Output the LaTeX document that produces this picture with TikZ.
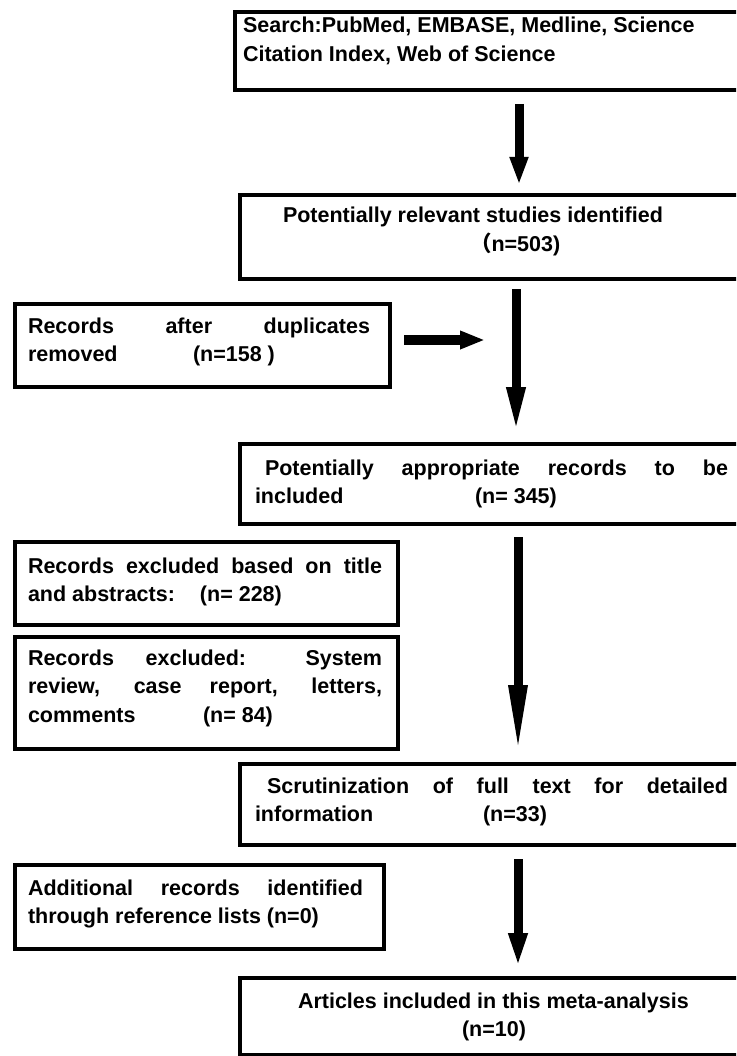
\documentclass[tikz,border=0pt]{standalone}
\usepackage{fontspec}
\setmainfont{Liberation Sans}
\newfontfamily\cjk{Noto Sans CJK SC}
\usetikzlibrary{arrows.meta}
\tikzset{
  box/.style={draw=black, line width=4pt, fill=none, inner sep=0pt, anchor=north west},
  txt/.style={anchor=base west, inner sep=0pt, outer sep=0pt},
  bigarrow/.style={line width=9pt, -{Triangle[length=#1, width=17pt]}},
  bigarrow/.default=30pt
}
\newcommand{\bx}[2]{\parbox[t]{#1}{\bfseries\fontsize{21.5}{28.5}\selectfont #2}}
\begin{document}
\begin{tikzpicture}[x=1pt, y=-1pt]
\useasboundingbox (0,0) rectangle (736,1056);
\clip (0,0) rectangle (736,1056);
% boxes
\node[box, minimum width=527pt, minimum height=78pt] (b1) at (233,10) {};
\node[box, minimum width=522pt, minimum height=84pt] (b2) at (238,193) {};
\node[box, minimum width=375pt, minimum height=83pt] (b3) at (13,302) {};
\node[box, minimum width=522pt, minimum height=80pt] (b4) at (238,442) {};
\node[box, minimum width=383pt, minimum height=83pt] (b5) at (13,540) {};
\node[box, minimum width=383pt, minimum height=112pt] (b6) at (13,635) {};
\node[box, minimum width=522pt, minimum height=81pt] (b7) at (238,762) {};
\node[box, minimum width=369pt, minimum height=84pt] (b8) at (13,863) {};
\node[box, minimum width=522pt, minimum height=77pt] (b9) at (238,976) {};
% texts
\node[txt] (t1) at (243,33) {\bx{480pt}{Search:PubMed, EMBASE, Medline, Science\\Citation Index, Web of Science}};
\node[txt] (t2) at (283,223) {\bx{420pt}{Potentially relevant studies identified\\\hspace*{187pt}{\cjk （}n=503)}};
\node[txt] (t3) at (28,333) {\bx{360pt}{\makebox[342pt][s]{Records after duplicates}\\\makebox[165pt][l]{removed}(n=158 )}};
\node[txt] (t4) at (255,475) {\bx{480pt}{\hspace*{10pt}\makebox[463pt][s]{Potentially appropriate records to be}\\\makebox[220pt][l]{included}(n= 345)}};
\node[txt] (t5) at (28,573) {\bx{360pt}{\makebox[354pt][s]{Records excluded based on title}\\\makebox[172pt][l]{and abstracts:}(n= 228)}};
\node[txt] (t6) at (28,665) {\bx{360pt}{\makebox[354pt][s]{Records excluded: System}\\\makebox[354pt][s]{review, case report, letters,}\\\makebox[175pt][l]{comments}(n= 84)}};
\node[txt] (t7) at (255,793) {\bx{480pt}{\hspace*{12pt}\makebox[461pt][s]{Scrutinization of full text for detailed}\\\makebox[228pt][l]{information}(n=33)}};
\node[txt] (t8) at (28,895) {\bx{360pt}{\makebox[335pt][s]{Additional records identified}\\through reference lists (n=0)}};
\node[txt] (t9) at (298,1008) {\bx{400pt}{Articles included in this meta-analysis\\\hspace*{164pt}(n=10)}};
% arrows
\coordinate (c1) at (519,0);
\coordinate (c2) at (516,0);
\coordinate (c3) at (518,0);
\coordinate (c4) at (518,0);
\coordinate (h) at (485,340);
\draw[bigarrow=28pt, shorten <=12pt, shorten >=8pt] (b1.south -| c1) -- (b2.north -| c1);
\draw[bigarrow=46pt, shorten <=8pt, shorten >=9pt] (b2.south -| c2) -- (b4.north -| c2);
\draw[bigarrow=70pt, shorten <=11pt, shorten >=7pt] (b4.south -| c3) -- (b7.north -| c3);
\draw[bigarrow=35pt, shorten <=12pt, shorten >=8pt] (b7.south -| c4) -- (b9.north -| c4);
\draw[line width=10pt, -{Triangle[length=25pt, width=17pt]}, shorten <=12pt] (b3.east |- h) -- (h);
\end{tikzpicture}
\end{document}
